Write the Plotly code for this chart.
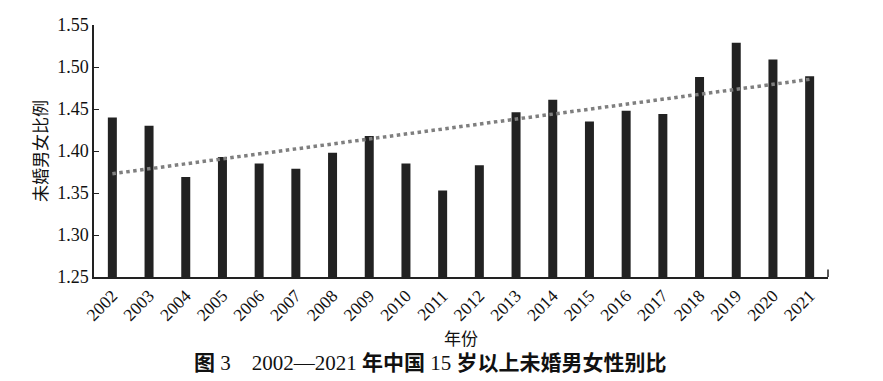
import numpy as np
import plotly.graph_objects as go

years = [str(y) for y in range(2002, 2022)]
ratio = [1.440, 1.430, 1.369, 1.393, 1.385, 1.379, 1.398, 1.418, 1.385, 1.353,
         1.383, 1.446, 1.461, 1.435, 1.448, 1.444, 1.488, 1.529, 1.509, 1.489]
y_ticks = [1.25, 1.30, 1.35, 1.40, 1.45, 1.50, 1.55]

idx = np.arange(len(ratio))
slope, intercept = np.polyfit(idx, ratio, 1)
trend = list(intercept + slope * idx)

serif = "Liberation Serif, Times New Roman, serif"
cjk = "Noto Sans CJK SC, sans-serif"

fig = go.Figure()
fig.add_trace(go.Bar(x=years, y=ratio, marker=dict(color="#222222", line=dict(width=0)),
                     width=0.245, showlegend=False))
fig.add_trace(go.Scatter(x=years, y=trend, mode="lines",
                         line=dict(color="#7f7f7f", width=3.5, dash="dot"), showlegend=False))

fig.update_layout(
    width=883, height=381,
    margin=dict(l=94, r=55, t=25, b=104),
    plot_bgcolor="white", paper_bgcolor="white",
    xaxis=dict(
        type="category", tickangle=-45, showgrid=False, ticks="",
        showline=True, linecolor="#222", linewidth=1.5,
        tickfont=dict(family=serif, size=17.5, color="#111"),
    ),
    yaxis=dict(
        range=[1.25, 1.55], tickvals=y_ticks, ticktext=[f"{v:.2f}" for v in y_ticks],
        showgrid=False, zeroline=False, ticks="inside", ticklen=5, tickcolor="#222",
        showline=True, linecolor="#222", linewidth=1.5,
        tickfont=dict(family=serif, size=18, color="#111"),
    ),
    shapes=[dict(type="line", xref="x domain", yref="y domain", x0=1, x1=1, y0=0, y1=0.03,
                 line=dict(color="#222", width=1.5))],
    annotations=[
        dict(text="未婚男女比例", xref="paper", yref="paper", x=-0.075, y=0.5,
             xanchor="center", yanchor="middle", textangle=-90, showarrow=False,
             font=dict(family=cjk, size=17, color="#111")),
        dict(text="年份", xref="paper", yref="paper", x=0.5, y=-0.24,
             xanchor="center", yanchor="middle", showarrow=False,
             font=dict(family=cjk, size=17, color="#111")),
        dict(text="<b>图</b> 3    2002—2021 <b>年中国</b> 15 <b>岁以上未婚男女性别比</b>",
             xref="paper", yref="paper", x=0.458, y=-0.34,
             xanchor="center", yanchor="middle", showarrow=False,
             font=dict(family=serif + ", Noto Sans CJK SC", size=21, color="#111")),
    ],
)

fig.write_html("out.html", config={"displayModeBar": False},
               post_script="document.body.style.margin='0';document.body.style.padding='0';")
